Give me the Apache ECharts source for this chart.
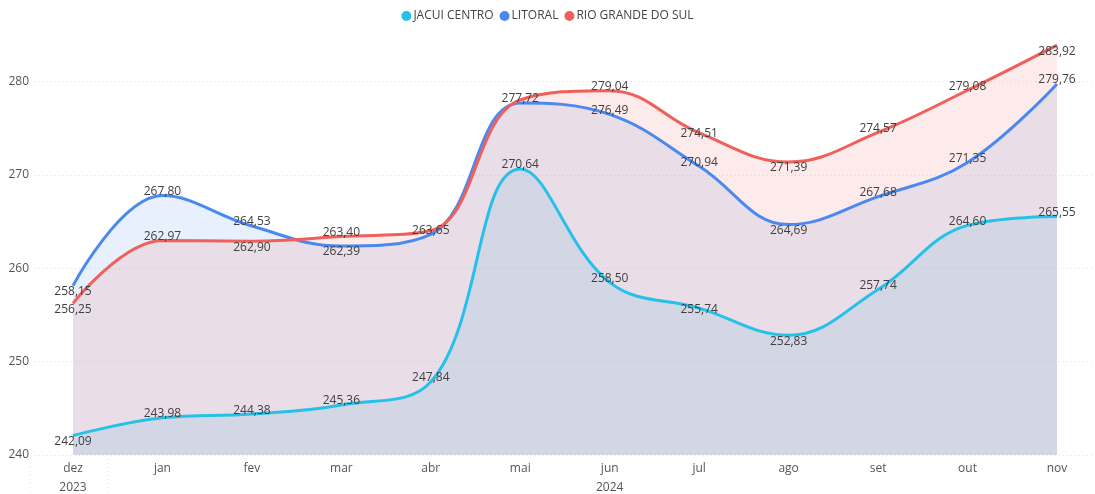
<!DOCTYPE html>
<html lang="pt">
<head>
    <meta charset="UTF-8">
    <title>Preço médio</title>
    <script src="https://cdn.jsdelivr.net/npm/echarts@6/dist/echarts.min.js"></script>
    <style>
        html, body { margin: 0; padding: 0; background: #fff; }
    </style>
</head>
<body>
    <div id="main" style="width: 1095px;height:494px;"></div>
    <script type="text/javascript">
       // meses e anos do eixo x
       var months = ['dez', 'jan', 'fev', 'mar', 'abr', 'mai', 'jun', 'jul', 'ago', 'set', 'out', 'nov'];
       var years = ['2023', '', '', '', '', '', '2024', '', '', '', '', ''];

       var yTicks = [240, 250, 260, 270, 280];

       var jacui = [242.09, 243.98, 244.38, 245.36, 247.84, 270.64, 258.50, 255.74, 252.83, 257.74, 264.60, 265.55];
       var litoral = [258.15, 267.80, 264.53, 262.39, 263.65, 277.72, 276.49, 270.94, 264.69, 267.68, 271.35, 279.76];
       var rioGrande = [256.25, 262.97, 262.90, 263.40, 264.05, 278.05, 279.04, 274.51, 271.39, 274.57, 279.08, 283.92];

       // onde fica o rótulo de cada ponto: t = acima, b = abaixo, c = sobre, - = oculto
       var posJacui = ['b', 't', 't', 't', 't', 't', 't', 'c', 'b', 't', 't', 't'];
       var posLitoral = ['b', 't', 't', 'b', 't', 't', 't', 't', 'b', 't', 't', 't'];
       var posRio = ['b', 't', 'b', 't', '-', '-', 't', 'c', 'b', 't', 't', 'b'];

       var FONT = 'Open Sans';

       function fmt(v) {
           return v.toFixed(2).replace('.', ',');
       }

       function buildData(values, pos) {
           var data = [];
           for (var i = 0; i < values.length; i++) {
               var p = pos[i];
               var label;
               if (p === '-') {
                   label = {show: false};
               } else if (p === 'b') {
                   label = {position: 'bottom', distance: 0};
               } else if (p === 'c') {
                   label = {position: 'top', distance: -7};
               } else {
                   label = {position: 'top', distance: -2};
               }
               data.push({value: values[i], label: label});
           }
           return data;
       }

       function makeSeries(name, color, values, pos) {
           return {
               name: name,
               type: 'line',
               xAxisIndex: 1,
               yAxisIndex: 1,
               smooth: 0.4,
               symbol: 'circle',
               symbolSize: 0,
               showSymbol: true,
               lineStyle: {width: 3, color: color},
               itemStyle: {color: color},
               areaStyle: {color: color, opacity: 0.13},
               label: {
                   show: true,
                   color: '#404040',
                   fontFamily: FONT,
                   fontSize: 12,
                   formatter: function (p) { return fmt(p.value); }
               },
               data: buildData(values, pos)
           };
       }

       var myChart = echarts.init(document.getElementById('main'));

       // grade 0 só desenha as linhas e rótulos do eixo y (vai de 240 a 290, topo fora da tela)
       var option = {
           animation: false,
           backgroundColor: '#ffffff',
           textStyle: {fontFamily: FONT},
           legend: {
               top: 5,
               left: 'center',
               icon: 'circle',
               itemWidth: 10,
               itemHeight: 10,
               itemGap: 6,
               textStyle: {color: '#444', fontSize: 12, fontFamily: FONT, padding: [0, 0, 0, -3]},
               data: ['JACUI CENTRO', 'LITORAL', 'RIO GRANDE DO SUL']
           },
           grid: [
               {left: 35, right: 0, top: -11.67, bottom: 39, outerBoundsMode: 'none'},
               {left: 73, right: 38, top: 35, bottom: 39, outerBoundsMode: 'none'}
           ],
           xAxis: [
               {type: 'value', gridIndex: 0, min: 0, max: 1, show: false},
               {
                   type: 'category',
                   gridIndex: 1,
                   data: months,
                   boundaryGap: false,
                   axisLine: {show: false},
                   axisTick: {show: false},
                   splitLine: {show: false},
                   axisLabel: {
                       color: '#555',
                       fontSize: 12,
                       fontFamily: FONT,
                       lineHeight: 19,
                       margin: 4,
                       interval: 0,
                       formatter: function (v, i) {
                           return years[i] ? v + '\n' + years[i] : v;
                       },
                       verticalAlign: 'top'
                   }
               }
           ],
           yAxis: [
               {
                   type: 'value',
                   gridIndex: 0,
                   min: yTicks[0],
                   max: 290,
                   interval: 10,
                   axisLine: {show: false},
                   axisTick: {show: false},
                   axisLabel: {
                       color: '#555',
                       fontSize: 12,
                       fontFamily: FONT,
                       margin: 6,
                       showMaxLabel: false,
                       formatter: function (v) {
                           return yTicks.indexOf(v) >= 0 ? String(v) : '';
                       }
                   },
                   splitLine: {lineStyle: {color: '#e3e3e3', type: [1, 3], width: 1}}
               },
               {
                   type: 'value',
                   gridIndex: 1,
                   min: yTicks[0],
                   max: 285,
                   interval: 10,
                   show: false,
                   splitLine: {show: false}
               }
           ],
           graphic: [
               {type: 'line', shape: {x1: 30, y1: 459, x2: 30, y2: 494}, style: {stroke: '#e0e0e0', lineDash: [1, 3]}},
               {type: 'line', shape: {x1: 108, y1: 459, x2: 108, y2: 494}, style: {stroke: '#e0e0e0', lineDash: [1, 3]}}
           ],
           series: [
               makeSeries('JACUI CENTRO', '#26c1e8', jacui, posJacui),
               makeSeries('LITORAL', '#4a8af0', litoral, posLitoral),
               makeSeries('RIO GRANDE DO SUL', '#f0605a', rioGrande, posRio)
           ]
       };

       myChart.setOption(option);
    </script>
</body>
</html>
